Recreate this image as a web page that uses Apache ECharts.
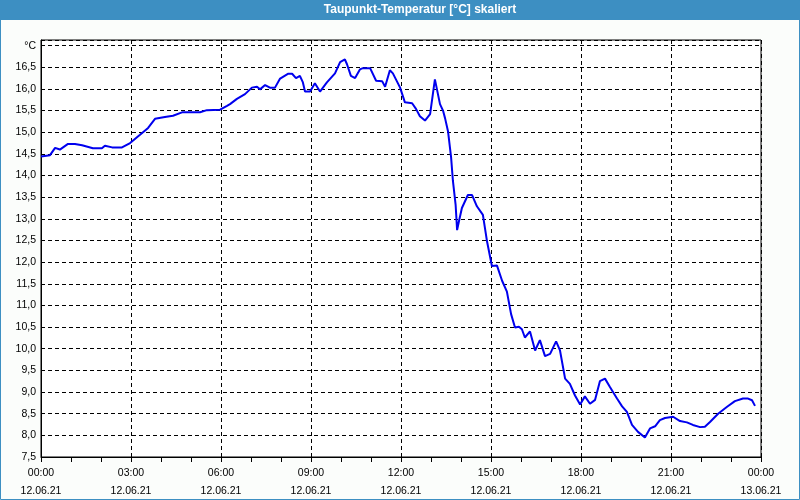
<!DOCTYPE html>
<html>
<head>
<meta charset="utf-8">
<script src="https://cdn.jsdelivr.net/npm/echarts@6/dist/echarts.min.js"></script>
<style>
html,body{margin:0;padding:0;background:#fbfdfb;}
#c{width:800px;height:500px;}
</style>
</head>
<body>
<div id="c"></div>
<script>
// Time in hours since 12.06.21 00:00
var hours = [0,0.30,0.47,0.63,0.90,1.13,1.37,1.73,2.03,2.13,2.37,2.70,2.97,3.30,3.57,3.80,4.13,4.40,4.70,5.30,5.53,5.97,6.20,6.30,6.53,6.80,7.03,7.20,7.30,7.47,7.63,7.80,7.97,8.23,8.37,8.50,8.63,8.73,8.80,8.97,9.13,9.30,9.53,9.80,9.97,10.13,10.20,10.33,10.47,10.63,10.73,10.97,11.17,11.37,11.47,11.63,11.73,11.97,12.13,12.37,12.50,12.63,12.80,12.97,13.13,13.30,13.40,13.47,13.57,13.67,13.73,13.82,13.87,13.93,14.03,14.23,14.37,14.53,14.73,14.87,15.03,15.20,15.37,15.53,15.67,15.80,15.93,16.03,16.13,16.30,16.47,16.63,16.80,16.97,17.17,17.30,17.47,17.63,17.80,17.97,18.13,18.30,18.47,18.63,18.80,18.97,19.20,19.37,19.53,19.70,19.90,20.13,20.30,20.47,20.63,20.80,21.07,21.30,21.53,21.73,21.97,22.13,22.30,22.57,22.87,23.13,23.40,23.57,23.70,23.80];
var dewpoint = [14.44,14.47,14.64,14.60,14.73,14.73,14.70,14.63,14.63,14.69,14.65,14.65,14.75,14.94,15.10,15.31,15.35,15.38,15.46,15.46,15.51,15.52,15.61,15.65,15.77,15.88,16.03,16.05,15.99,16.09,16.03,16.03,16.24,16.35,16.35,16.25,16.30,16.15,15.94,15.94,16.13,15.94,16.15,16.36,16.62,16.68,16.57,16.30,16.25,16.45,16.48,16.48,16.19,16.18,16.05,16.43,16.36,16.03,15.69,15.67,15.54,15.37,15.27,15.42,16.22,15.65,15.50,15.32,15.01,14.42,13.88,13.33,12.74,12.94,13.25,13.55,13.55,13.29,13.09,12.47,11.91,11.92,11.57,11.32,10.80,10.49,10.51,10.45,10.26,10.40,9.96,10.20,9.83,9.88,10.17,9.96,9.31,9.19,8.92,8.71,8.90,8.73,8.82,9.25,9.31,9.11,8.85,8.67,8.54,8.24,8.08,7.95,8.16,8.21,8.35,8.40,8.43,8.33,8.30,8.24,8.19,8.20,8.31,8.50,8.66,8.79,8.85,8.85,8.81,8.68];
var timeLabels = ['00:00','03:00','06:00','09:00','12:00','15:00','18:00','21:00','00:00'];
var dateLabels = ['12.06.21','12.06.21','12.06.21','12.06.21','12.06.21','12.06.21','12.06.21','12.06.21','13.06.21'];
var titleText = 'Taupunkt-Temperatur [°C] skaliert';
var unitLabel = '°C';

var data = hours.map(function(h,i){return [h, dewpoint[i]];});
var FONT = 'Liberation Sans';
var chart = echarts.init(document.getElementById('c'), null, {renderer:'canvas'});
chart.setOption({
  animation:false,
  backgroundColor:'#fbfdfb',
  graphic:[
    {type:'rect', shape:{x:0,y:0,width:800,height:20}, style:{fill:'#3d8fc2'}, silent:true},
    {type:'rect', shape:{x:0.5,y:0.5,width:799,height:499}, style:{fill:null, stroke:'#3d8fc2', lineWidth:1}, silent:true},
    {type:'text', x:420, y:10, style:{text:titleText, fill:'#ffffff', font:'bold 12px "Liberation Sans"', textAlign:'center', textVerticalAlign:'middle'}, silent:true}
  ],
  grid:{left:41,right:39,top:40,bottom:40,show:true,borderColor:'#000',borderWidth:1,backgroundColor:'#ffffff'},
  xAxis:{
    type:'value', min:0, max:24, interval:3,
    axisLine:{show:true,onZero:false,lineStyle:{color:'#000',width:1}},
    axisTick:{show:true,length:5,lineStyle:{color:'#000'}},
    minorTick:{show:true,splitNumber:3,length:5,lineStyle:{color:'#000'}},
    splitLine:{show:true,lineStyle:{color:'#000',type:[4,3],width:1}},
    axisLabel:{margin:7,color:'#000',fontFamily:FONT,fontSize:10.5,lineHeight:18,
      formatter:function(v){var i=Math.round(v/3);return timeLabels[i]+'\n'+dateLabels[i];}}
  },
  yAxis:{
    type:'value', min:7.5, max:17.13, interval:0.5,
    axisLine:{show:true,lineStyle:{color:'#000',width:1}},
    axisTick:{show:false},
    splitLine:{show:true,lineStyle:{color:'#000',type:[4,3],width:1}},
    axisLabel:{margin:5,color:'#000',fontFamily:FONT,fontSize:10.5,
      formatter:function(v){
        if (Math.abs(v*2-Math.round(v*2))>1e-6) return '';
        if (Math.abs(v-17)<1e-6) return unitLabel;
        return v.toFixed(1).replace('.',',');
      }}
  },
  series:[{type:'line',data:data,showSymbol:false,lineStyle:{color:'#0000ee',width:2},silent:true}]
});
</script>
</body>
</html>
